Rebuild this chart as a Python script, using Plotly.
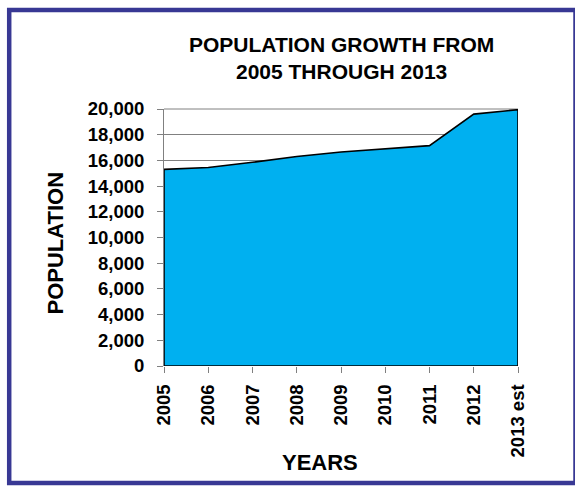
import plotly.graph_objects as go

years = ["2005", "2006", "2007", "2008", "2009", "2010", "2011", "2012", "2013 est"]
population = [15300, 15450, 15850, 16300, 16650, 16900, 17150, 19600, 19950]
y_ticks = list(range(0, 20001, 2000))

W, H = 575, 486
L, R, T, B = 164, 518, 109, 366
FONT = "Liberation Sans, Arial, sans-serif"

# closed outline of the area, built from the data
xs = years + [years[-1], years[0], years[0]]
ys = population + [0, 0, population[0]]

fig = go.Figure()
fig.add_trace(go.Scatter(
    x=xs, y=ys, mode="lines", fill="toself",
    fillcolor="#00B0F0", line=dict(color="black", width=1.6),
    hoverinfo="skip", showlegend=False,
))

def px_x(p):
    return (p - L) / (R - L)

def px_y(p):
    return (B - p) / (B - T)

fig.update_layout(
    width=W, height=H,
    margin=dict(l=L, r=W - R, t=T, b=H - B),
    paper_bgcolor="white", plot_bgcolor="white",
    font=dict(family=FONT, color="black"),
    annotations=[
        dict(text="<b>POPULATION GROWTH FROM<br>2005 THROUGH 2013</b>",
             x=px_x(341), y=px_y(31), xref="paper", yref="paper",
             xanchor="center", yanchor="top", showarrow=False,
             font=dict(size=21, family=FONT, color="black")),
        dict(text="<b>YEARS</b>", x=px_x(320), y=px_y(462), xref="paper", yref="paper",
             xanchor="center", yanchor="middle", showarrow=False,
             font=dict(size=22, family=FONT, color="black")),
        dict(text="<b>POPULATION</b>", x=px_x(55), y=px_y(243.5), xref="paper", yref="paper",
             xanchor="center", yanchor="middle", showarrow=False, textangle=-90,
             font=dict(size=22, family=FONT, color="black")),
    ],
    xaxis=dict(
        type="category", categoryorder="array", categoryarray=years,
        range=[0, len(years) - 1],
        tickangle=-90, ticks="outside", ticklen=6, tickcolor="#808080",
        ticklabelstandoff=4,
        tickfont=dict(size=18.5, family=FONT, color="black", weight="bold"),
        showgrid=False, showline=False, zeroline=False,
    ),
    yaxis=dict(
        range=[0, 20000], tickvals=y_ticks, tickformat=",",
        ticks="outside", ticklen=6, tickcolor="#808080",
        ticklabelstandoff=9,
        tickfont=dict(size=18.5, family=FONT, color="black", weight="bold"),
        showgrid=True, gridcolor="#808080", gridwidth=1,
        showline=True, linecolor="#808080", linewidth=1, zeroline=False,
    ),
    shapes=[
        dict(type="line", xref="paper", yref="paper", x0=0, x1=1, y0=1, y1=1,
             line=dict(color="#808080", width=1), layer="below"),
        dict(type="rect", xref="paper", yref="paper",
             x0=px_x(9.2), x1=px_x(575.5), y0=px_y(483), y1=px_y(10),
             line=dict(color="#383894", width=4.5), fillcolor="rgba(0,0,0,0)", layer="above"),
    ],
)

fig.write_html("out.html")
